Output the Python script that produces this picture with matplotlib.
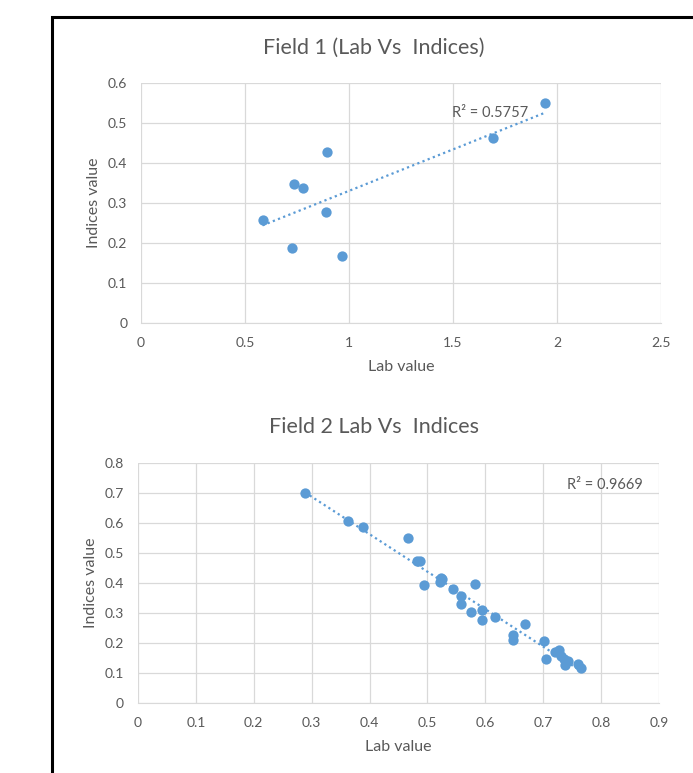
import numpy as np
import matplotlib.pyplot as plt
from matplotlib.patches import Rectangle

# Field 1 data
lab1 = [1.940, 1.690, 0.892, 0.735, 0.781, 0.889, 0.584, 0.728, 0.966]
ind1 = [0.551, 0.4625, 0.427, 0.3475, 0.337, 0.277, 0.2575, 0.187, 0.168]
r2_1 = "R² = 0.5757"

# Field 2 data
lab2 = [0.2887, 0.3634, 0.3887, 0.467, 0.482, 0.487, 0.4948, 0.5231, 0.525, 0.5213,
        0.5447, 0.5583, 0.5583, 0.5824, 0.5756, 0.5935, 0.5935, 0.6175, 0.6477, 0.6477,
        0.6687, 0.7008, 0.7051, 0.7212, 0.7273, 0.731, 0.736, 0.7434, 0.7384, 0.76, 0.7656]
ind2 = [0.699, 0.605, 0.585, 0.550, 0.4716, 0.4716, 0.3946, 0.418, 0.4147, 0.4036,
        0.381, 0.358, 0.329, 0.398, 0.303, 0.311, 0.2765, 0.2876, 0.225, 0.2096,
        0.2642, 0.2074, 0.146, 0.1695, 0.176, 0.156, 0.147, 0.1405, 0.126, 0.1304, 0.117]
r2_2 = "R² = 0.9669"

blue = '#5b9bd5'
grey = '#595959'
plt.rcParams['font.family'] = ['Lato', 'DejaVu Sans']

fig = plt.figure(figsize=(6.93, 7.73), dpi=100)
fig.add_artist(Rectangle((52/693, -0.1), 1.0, 1 - 17/773 + 0.1, transform=fig.transFigure,
                         fill=False, edgecolor='black', linewidth=2.2))


def panel(rect, x, y, title, r2, r2pos, xmax, xstep, ymax, ystep, title_y):
    ax = fig.add_axes(rect)
    ax.scatter(x, y, s=55, color=blue, zorder=3, linewidths=0)
    # linear trend line
    m, b = np.polyfit(x, y, 1)
    xs = np.array([min(x), max(x)])
    ax.plot(xs, m * xs + b, linestyle=(0, (1, 1.5)), color=blue, linewidth=1.6, zorder=2)
    ax.text(r2pos[0], r2pos[1], r2, color=grey, fontsize=10.5, ha='center', va='center')
    ax.set_xlim(0, xmax)
    ax.set_ylim(0, ymax)
    xt = np.round(np.arange(0, xmax + xstep / 2, xstep), 2)
    yt = np.round(np.arange(0, ymax + ystep / 2, ystep), 2)
    ax.set_xticks(xt)
    ax.set_yticks(yt)
    ax.set_xticklabels([f'{v:g}' for v in xt])
    ax.set_yticklabels([f'{v:g}' for v in yt])
    ax.grid(True, color='#d9d9d9', linewidth=0.9)
    ax.set_axisbelow(True)
    for s in ['top', 'right', 'left']:
        ax.spines[s].set_visible(False)
    ax.spines['bottom'].set_color('#d9d9d9')
    ax.tick_params(length=0, colors=grey, labelsize=10, pad=10)
    ax.set_xlabel('Lab value', color=grey, fontsize=11.5, labelpad=8)
    ax.set_ylabel('Indices value', color=grey, fontsize=11.5, labelpad=5)
    fig.text(0.54, title_y, title, color=grey, fontsize=15.5, ha='center', va='center')
    return ax


panel([0.2035, 0.5822, 0.7504, 0.3105], lab1, ind1, 'Field 1 (Lab Vs  Indices)', r2_1,
      (1.678, 0.525), 2.5, 0.5, 0.6, 0.1, 1 - 48/773)
panel([0.1991, 0.0906, 0.7518, 0.3105], lab2, ind2, 'Field 2 Lab Vs  Indices', r2_2,
      (0.8066, 0.727), 0.9, 0.1, 0.8, 0.1, 1 - 427/773)

fig.savefig('out.png', dpi=100)
